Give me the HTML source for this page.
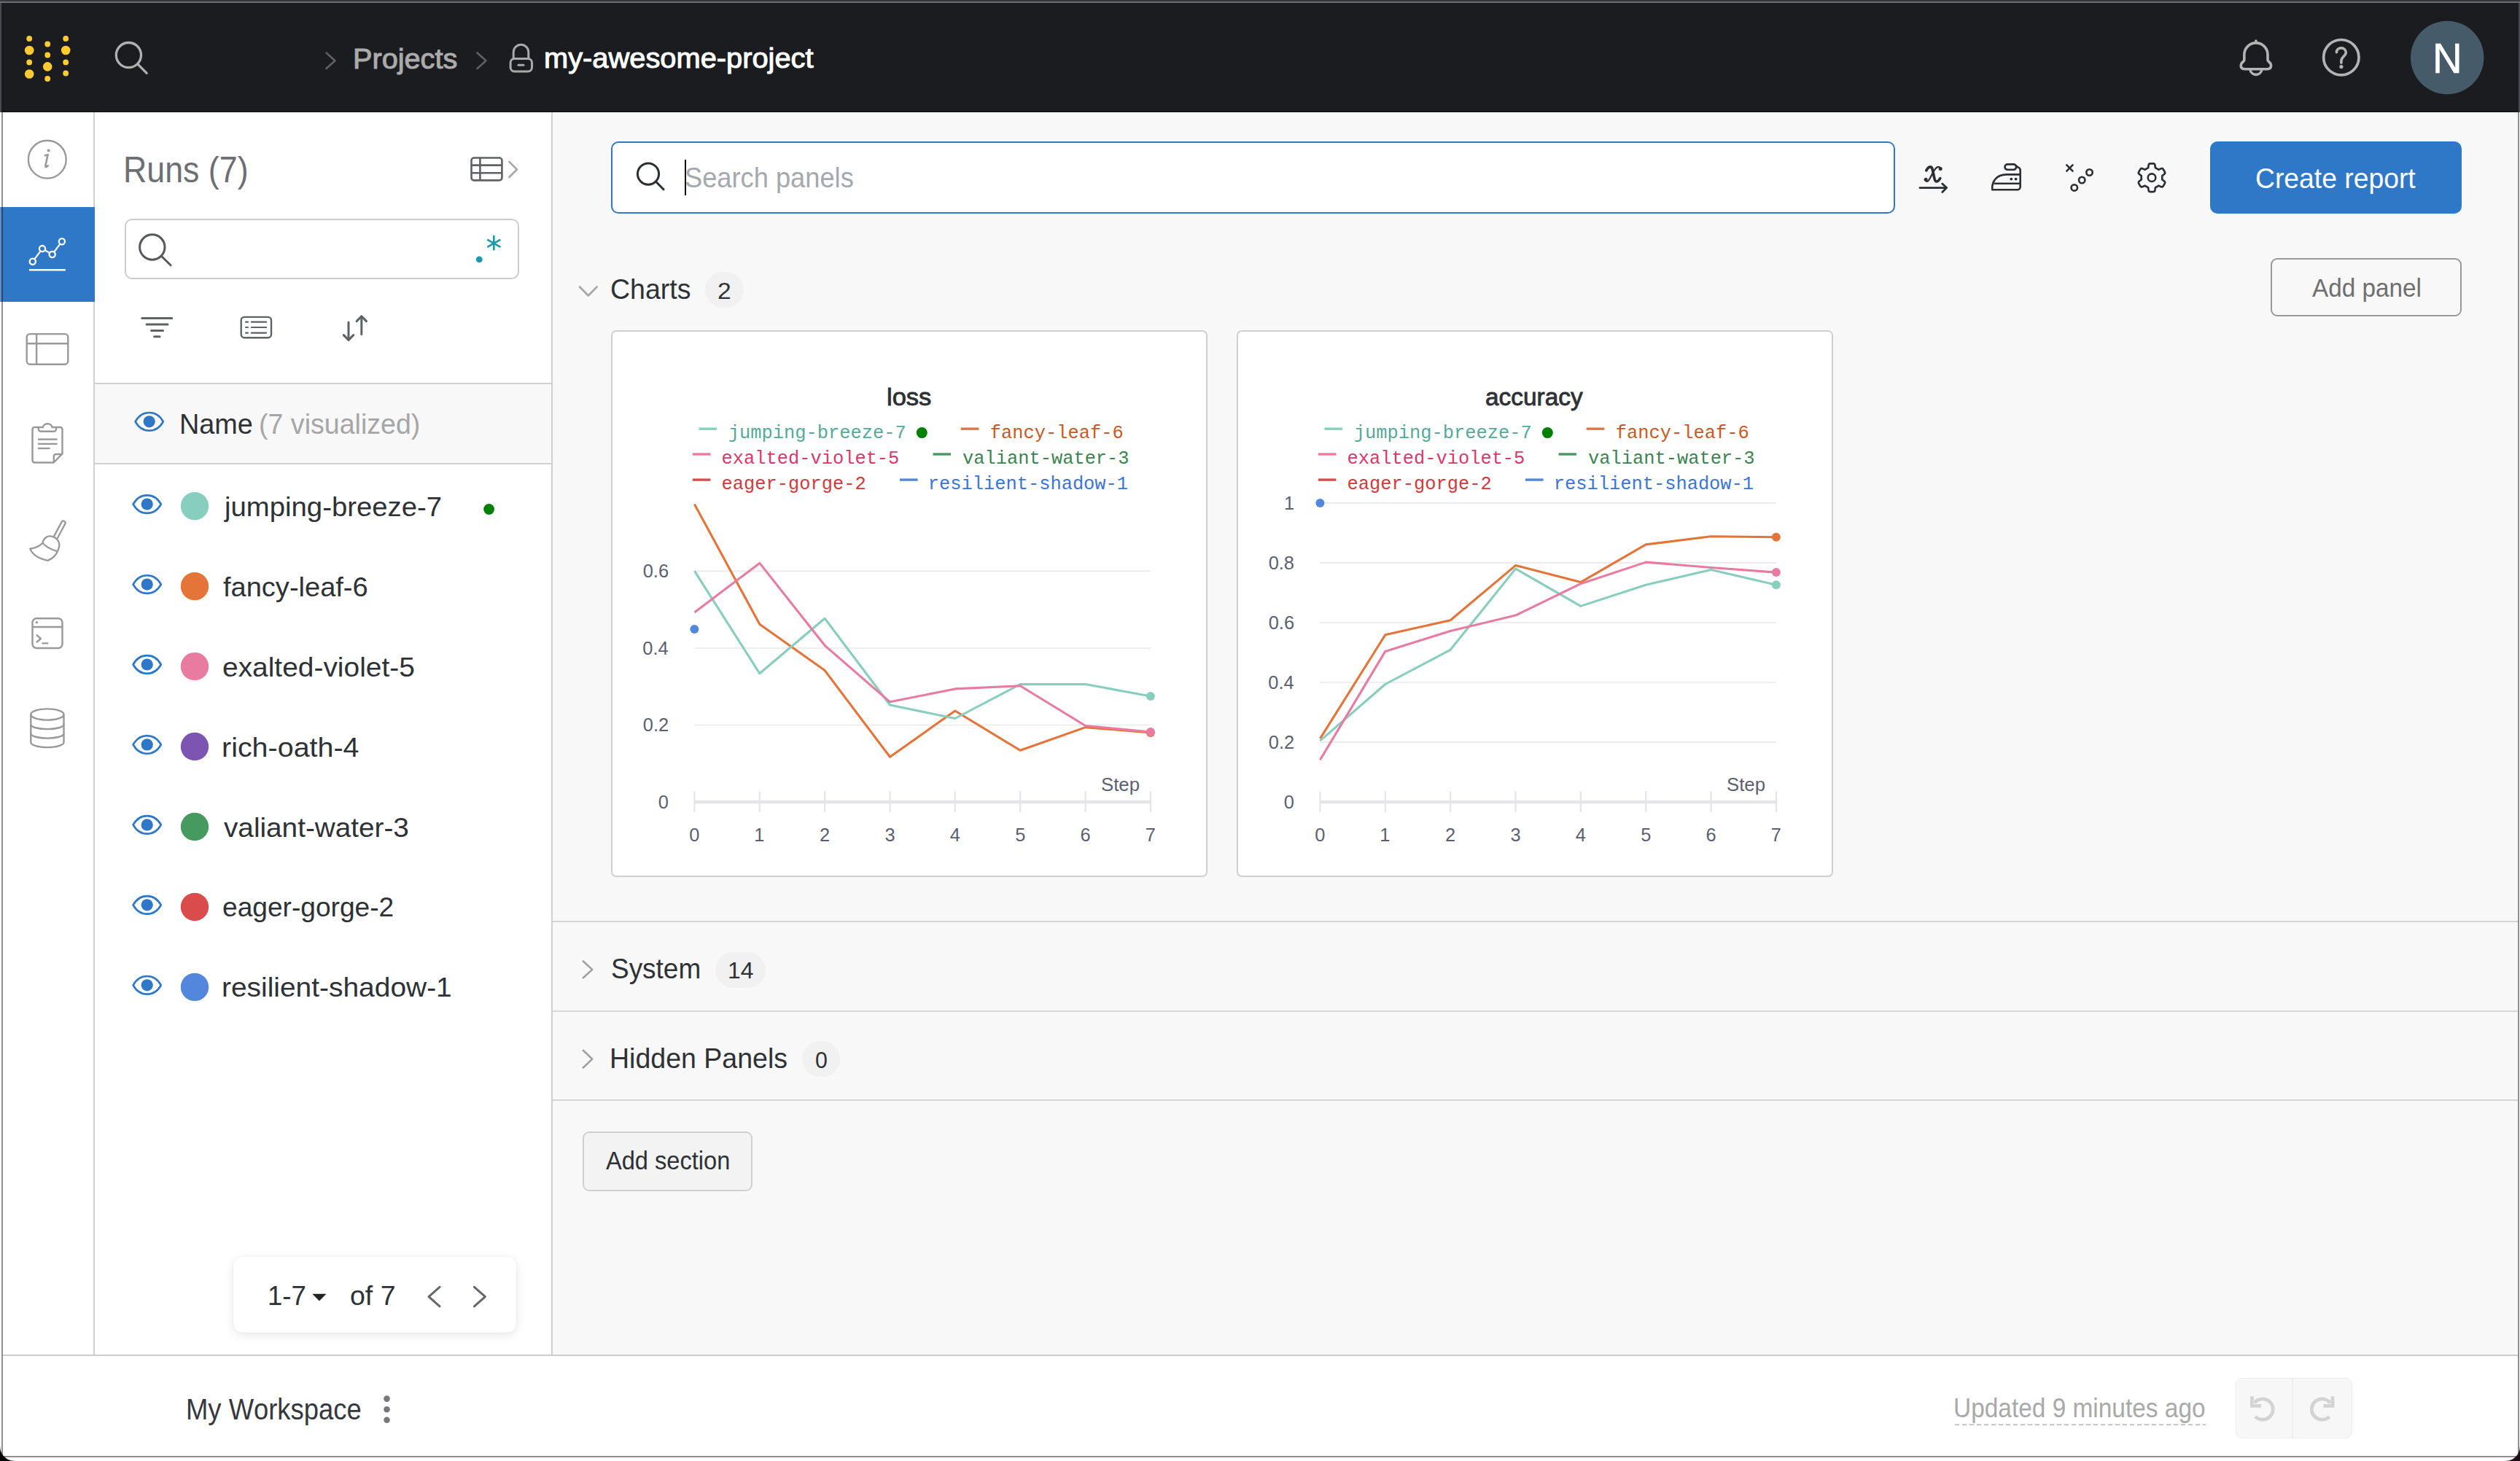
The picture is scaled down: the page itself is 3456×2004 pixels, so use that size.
<!DOCTYPE html><html><head><meta charset="utf-8"><title>my-awesome-project Workspace</title><style>
*{margin:0;padding:0;box-sizing:content-box}
html,body{width:3456px;height:2004px;overflow:hidden;background:#fff}
body{position:relative;font-family:"Liberation Sans",Arial,sans-serif}
.t{position:absolute;white-space:nowrap;line-height:1;transform-origin:0 0;font-kerning:none;z-index:3}
#ov{position:absolute;left:0;top:0;z-index:2}
@media (max-width:2400px){html{zoom:0.5}}
</style></head><body>
<div style="position:absolute;left:0px;top:0px;width:3456px;height:2px;background:#35363b"></div>
<div style="position:absolute;left:0px;top:2px;width:3456px;height:2px;background:#6b6c70"></div>
<div style="position:absolute;left:0px;top:4px;width:2px;height:150px;background:#4a4b50"></div>
<div style="position:absolute;left:2px;top:4px;width:3452px;height:150px;background:#1a1c20"></div>
<div style="position:absolute;left:3454px;top:4px;width:2px;height:150px;background:#48494e"></div>
<div style="position:absolute;left:4px;top:154px;width:124px;height:1704px;background:#fff"></div>
<div style="position:absolute;left:128px;top:154px;width:2px;height:1704px;background:#d0d0d0"></div>
<div style="position:absolute;left:0px;top:284px;width:130px;height:130px;background:#2f78c8"></div>
<div style="position:absolute;left:0px;top:284px;width:2px;height:130px;background:#5d90d2"></div>
<div style="position:absolute;left:130px;top:154px;width:626px;height:1704px;background:#fff"></div>
<div style="position:absolute;left:756px;top:154px;width:2px;height:1704px;background:#d0d0d0"></div>
<div style="position:absolute;left:130px;top:525px;width:626px;height:2px;background:#d0d0d0"></div>
<div style="position:absolute;left:130px;top:527px;width:626px;height:108px;background:#f8f8f8"></div>
<div style="position:absolute;left:130px;top:634.5px;width:626px;height:2px;background:#d0d0d0"></div>
<div style="position:absolute;left:758px;top:154px;width:2695px;height:1704px;background:#f8f8f8"></div>
<div style="position:absolute;left:3451.5px;top:154px;width:1.5px;height:1704px;background:#fff"></div>
<div style="position:absolute;left:4px;top:1858px;width:3449px;height:2px;background:#cdcdcd"></div>
<div style="position:absolute;left:4px;top:1860px;width:3449px;height:137px;background:#fff"></div>
<div style="position:absolute;left:2px;top:152.6px;width:3452px;height:1.4px;background:#0b0d11"></div>
<div style="position:absolute;left:758px;top:154px;width:2695px;height:1.4px;background:#fff"></div>
<div style="position:absolute;left:2px;top:154px;width:2px;height:130px;background:#8f8f8f"></div>
<div style="position:absolute;left:2px;top:284px;width:2px;height:130px;background:#2c4666"></div>
<div style="position:absolute;left:2px;top:414px;width:2px;height:1585px;background:#8f8f8f"></div>
<div style="position:absolute;left:3453px;top:154px;width:2px;height:1845px;background:#8f8f8f"></div>
<div style="position:absolute;left:2px;top:1997px;width:3453px;height:2px;background:#8f8f8f"></div>
<div style="position:absolute;left:0px;top:1984px;width:20px;height:20px;z-index:4;background:radial-gradient(circle at 100% 0, rgba(0,0,0,0) 19.3px, #050505 20.6px)"></div>
<div style="position:absolute;left:3436px;top:1984px;width:20px;height:20px;z-index:4;background:radial-gradient(circle at 0 0, rgba(0,0,0,0) 19.3px, #1c0f17 20.6px)"></div>
<div style="position:absolute;left:171px;top:300px;width:541px;height:83px;box-sizing:border-box;border:2px solid #cccccc;border-radius:10px;background:#fff"></div>
<div style="position:absolute;left:320px;top:1724px;width:388px;height:104px;border-radius:13px;background:#fff;box-shadow:0 3px 14px rgba(0,0,0,0.10),0 0 3px rgba(0,0,0,0.04)"></div>
<div style="position:absolute;left:3066px;top:1890px;width:160px;height:83px;box-sizing:border-box;border:1.5px solid #ededed;border-radius:9px;background:#f7f7f7"></div>
<div style="position:absolute;left:3143.3px;top:1891px;width:1.5px;height:81px;background:#ededed"></div>
<div style="position:absolute;left:838px;top:194px;width:1761px;height:99px;box-sizing:border-box;border:2px solid #2e78c7;border-radius:10px;background:#fff"></div>
<div style="position:absolute;left:939px;top:219.2px;width:2px;height:48.4px;background:#111"></div>
<div style="position:absolute;left:3031px;top:194px;width:345px;height:99px;border-radius:10px;background:#2f78c8"></div>
<div style="position:absolute;left:966.9px;top:372.6px;width:53.1px;height:49.8px;border-radius:25px;background:#f1f1f1"></div>
<div style="position:absolute;left:3114px;top:354px;width:262px;height:80px;box-sizing:border-box;border:2px solid #999;border-radius:9px"></div>
<div style="position:absolute;left:838px;top:453px;width:818px;height:750px;box-sizing:border-box;border:2px solid #cfcfcf;border-radius:7px;background:#fff"></div>
<div style="position:absolute;left:1696px;top:453px;width:818px;height:750px;box-sizing:border-box;border:2px solid #cfcfcf;border-radius:7px;background:#fff"></div>
<div style="position:absolute;left:758px;top:1263px;width:2695px;height:2.4px;background:#d3d3d3"></div>
<div style="position:absolute;left:758px;top:1385.8px;width:2695px;height:1.8px;background:#d6d6d6"></div>
<div style="position:absolute;left:758px;top:1508px;width:2695px;height:2.4px;background:#d3d3d3"></div>
<div style="position:absolute;left:981.2px;top:1306.1px;width:69.1px;height:48.5px;border-radius:25px;background:#f1f1f1"></div>
<div style="position:absolute;left:1100.4px;top:1428px;width:52px;height:49.3px;border-radius:25px;background:#f1f1f1"></div>
<div style="position:absolute;left:799px;top:1552px;width:233px;height:82px;box-sizing:border-box;border:2px solid #d0d0d0;border-radius:9px;background:#f3f3f3"></div>
<svg id="ov" width="3456" height="2004" viewBox="0 0 3456 2004"><circle cx="40.2" cy="52.9" r="3.9" fill="#ffcb33"/><circle cx="40.2" cy="69" r="6.3" fill="#ffcb33"/><circle cx="40.2" cy="85.4" r="3.9" fill="#ffcb33"/><circle cx="40.2" cy="101.5" r="6.3" fill="#ffcb33"/><circle cx="65.2" cy="60.5" r="3.9" fill="#ffcb33"/><circle cx="65.2" cy="75.5" r="3.9" fill="#ffcb33"/><circle cx="65.2" cy="91.4" r="6.3" fill="#ffcb33"/><circle cx="65.2" cy="108" r="3.9" fill="#ffcb33"/><circle cx="90.2" cy="52.9" r="3.9" fill="#ffcb33"/><circle cx="90.2" cy="69" r="6.3" fill="#ffcb33"/><circle cx="90.2" cy="85.4" r="3.9" fill="#ffcb33"/><circle cx="90.2" cy="100.5" r="3.9" fill="#ffcb33"/><circle cx="176.4" cy="75.6" r="17.1" fill="none" stroke="#b0b0b0" stroke-width="3.3"/><line x1="189.3" y1="88.3" x2="201.2" y2="100.3" stroke="#b0b0b0" stroke-width="3.3" stroke-linecap="round"/><polyline points="447.5,72.5 459.5,83.2 447.5,94" fill="none" stroke="#5f6064" stroke-width="2.6" stroke-linecap="round" stroke-linejoin="round"/><polyline points="654.5,72.5 666.5,83.2 654.5,94" fill="none" stroke="#5f6064" stroke-width="2.6" stroke-linecap="round" stroke-linejoin="round"/><path d="M704.2,80.5 V71.5 A10.3,10.3 0 0 1 724.8,71.5 V80.5" fill="none" stroke="#a9a9a9" stroke-width="3"/><rect x="700.1" y="80.5" width="29.4" height="17.5" rx="5.5" fill="none" stroke="#a9a9a9" stroke-width="3"/><line x1="711" y1="89.2" x2="718" y2="89.2" stroke="#a9a9a9" stroke-width="3" stroke-linecap="round"/><path d="M3077.8,82.5 V75 A16.1,16.1 0 0 1 3110,75 V82.5 C3110,84.5 3114.6,85.5 3114.6,89.5 C3114.6,92.8 3112.6,94.7 3109.5,94.7 H3078.3 C3075.2,94.7 3073.2,92.8 3073.2,89.5 C3073.2,85.5 3077.8,84.5 3077.8,82.5 Z" fill="none" stroke="#b3b3b3" stroke-width="3.6" stroke-linejoin="round"/><path d="M3085.9,95.5 A8.1,8.1 0 0 0 3101.9,95.5" fill="none" stroke="#b3b3b3" stroke-width="3.6"/><line x1="3093.9" y1="56" x2="3093.9" y2="58.5" stroke="#b3b3b3" stroke-width="3.6" stroke-linecap="round"/><circle cx="3210.8" cy="78.7" r="24.2" fill="none" stroke="#b3b3b3" stroke-width="3.7"/><path d="M3204.4,71.8 C3204.4,67.8 3207.3,65.9 3210.8,65.9 C3214.6,65.9 3217.3,68.6 3217.3,72.1 C3217.3,76.3 3210.9,78.6 3210.9,83.4 V86.2" fill="none" stroke="#b3b3b3" stroke-width="3.6" stroke-linecap="round"/><circle cx="3210.9" cy="91.6" r="2.6" fill="#b3b3b3"/><circle cx="3356.2" cy="79" r="50.2" fill="#465b69"/><circle cx="64.8" cy="218.7" r="25.9" fill="none" stroke="#999999" stroke-width="2.4"/><circle cx="66.6" cy="206.4" r="2" fill="#999999"/><path d="M61.8,213.2 L65.6,212.2 L62.3,227.5 C62.1,229.2 63.5,229.8 65.8,227.2" fill="none" stroke="#999999" stroke-width="2.6" stroke-linecap="round" stroke-linejoin="round"/><polyline points="44.8,358.8 58,341.1 71.7,349 84.9,331.2" fill="none" stroke="#fff" stroke-width="2.2"/><circle cx="44.8" cy="358.8" r="4.1" fill="#2f78c8" stroke="#fff" stroke-width="2.3"/><circle cx="58" cy="341.1" r="4.1" fill="#2f78c8" stroke="#fff" stroke-width="2.3"/><circle cx="71.7" cy="349" r="4.1" fill="#2f78c8" stroke="#fff" stroke-width="2.3"/><circle cx="84.9" cy="331.2" r="4.1" fill="#2f78c8" stroke="#fff" stroke-width="2.3"/><line x1="40" y1="370.3" x2="89.9" y2="370.3" stroke="#fff" stroke-width="2.6"/><rect x="36.7" y="458.1" width="56.6" height="41.7" rx="4.5" fill="none" stroke="#999999" stroke-width="2.4"/><line x1="36.7" y1="471.3" x2="93.3" y2="471.3" stroke="#999999" stroke-width="2.4"/><line x1="50.1" y1="458.1" x2="50.1" y2="499.8" stroke="#999999" stroke-width="2.4"/><path d="M52.2,586 H47.5 A3,3 0 0 0 44.5,589 V631.5 A3,3 0 0 0 47.5,634.5 H73.5 L85.5,622.3 V589 A3,3 0 0 0 82.5,586 H77.6" fill="none" stroke="#999999" stroke-width="2.4" stroke-linejoin="round"/><path d="M52.8,586 V588.5 A3.3,3.3 0 0 0 56.1,591.8 H73.7 A3.3,3.3 0 0 0 77,588.5 V586 H71.4 A6.2,4.8 0 0 0 59,586 Z" fill="none" stroke="#999999" stroke-width="2.4" stroke-linejoin="round"/><path d="M73.8,634.3 V626 A3,3 0 0 1 76.8,623 H85.3" fill="none" stroke="#999999" stroke-width="2.4" stroke-linejoin="round"/><line x1="51.9" y1="602.6" x2="78.6" y2="602.6" stroke="#999999" stroke-width="2.4"/><line x1="51.9" y1="608.9" x2="78.6" y2="608.9" stroke="#999999" stroke-width="2.4"/><line x1="51.9" y1="615" x2="68.5" y2="615" stroke="#999999" stroke-width="2.4"/><g transform="translate(81.75,726.9) rotate(-61.8)"><rect x="-13.5" y="-2.7" width="27" height="5.4" rx="2.7" fill="none" stroke="#999999" stroke-width="2.3"/></g><path d="M58.4,744.6 C60.2,737.5 65.5,734.6 70.4,735.6 C77.5,737 83.5,743.5 80.6,752 L78.8,756.4 C71,754 63,750.5 58.4,744.6 Z" fill="#fff" stroke="#999999" stroke-width="2.3" stroke-linejoin="round"/><path d="M58.2,745.2 C53.5,749.6 48,752.2 41.2,752.6 C44.5,760.5 53.5,766.4 65.4,768.8 C71.5,766.5 76.5,762 78.8,756.4" fill="none" stroke="#999999" stroke-width="2.3" stroke-linejoin="round"/><rect x="44.5" y="848.2" width="41" height="40.8" rx="5.5" fill="none" stroke="#999999" stroke-width="2.4"/><line x1="44.5" y1="860" x2="85.5" y2="860" stroke="#999999" stroke-width="2.4"/><circle cx="50.3" cy="853.8" r="1.7" fill="#999999"/><polyline points="50.6,871.3 56,876 50.6,880.5" fill="none" stroke="#999999" stroke-width="2.4" stroke-linecap="round" stroke-linejoin="round"/><line x1="58.6" y1="882.4" x2="65.2" y2="882.4" stroke="#999999" stroke-width="2.4" stroke-linecap="round"/><ellipse cx="64.9" cy="980" rx="22.6" ry="7.6" fill="none" stroke="#999999" stroke-width="2.4"/><path d="M42.3,980 V1018.3 A22.6,6.8 0 0 0 87.5,1018.3 V980" fill="none" stroke="#999999" stroke-width="2.4"/><path d="M42.3,993.8 A22.6,6.3 0 0 0 87.5,993.8" fill="none" stroke="#999999" stroke-width="2.4"/><path d="M42.3,1006.3 A22.6,6.3 0 0 0 87.5,1006.3" fill="none" stroke="#999999" stroke-width="2.4"/><rect x="646.5" y="216.5" width="41.9" height="30.9" rx="3.6" fill="none" stroke="#5e6166" stroke-width="2.6"/><line x1="646.5" y1="226.6" x2="688.4" y2="226.6" stroke="#5e6166" stroke-width="2.6"/><line x1="646.5" y1="237.3" x2="688.4" y2="237.3" stroke="#5e6166" stroke-width="2.6"/><line x1="658.4" y1="216.5" x2="658.4" y2="247.4" stroke="#5e6166" stroke-width="2.6"/><polyline points="698.3,221.8 709,232.5 698.3,243" fill="none" stroke="#a8a8a8" stroke-width="2.6" stroke-linecap="round" stroke-linejoin="round"/><circle cx="208.8" cy="339" r="17.2" fill="none" stroke="#55585c" stroke-width="3"/><line x1="221.5" y1="351.5" x2="234" y2="363.8" stroke="#55585c" stroke-width="3" stroke-linecap="round"/><circle cx="657.3" cy="355.9" r="4.4" fill="#1c9aab"/><g stroke="#1c9aab" stroke-width="2.6" stroke-linecap="butt"><line x1="677.3" y1="322.8" x2="677.3" y2="343.4"/><line x1="668.3" y1="328.6" x2="686.3" y2="338.9"/><line x1="668.3" y1="338.9" x2="686.3" y2="328.6"/></g><line x1="194.8" y1="436.5" x2="235.8" y2="436.5" stroke="#5e6166" stroke-width="3" stroke-linecap="round"/><line x1="201" y1="445" x2="230" y2="445" stroke="#5e6166" stroke-width="3" stroke-linecap="round"/><line x1="207.6" y1="453.4" x2="223.5" y2="453.4" stroke="#5e6166" stroke-width="3" stroke-linecap="round"/><line x1="211.6" y1="461.8" x2="219" y2="461.8" stroke="#5e6166" stroke-width="3" stroke-linecap="round"/><rect x="330.7" y="434.9" width="41.3" height="28.3" rx="4.5" fill="none" stroke="#5e6166" stroke-width="2.4"/><line x1="337" y1="441.7" x2="340" y2="441.7" stroke="#5e6166" stroke-width="2.2" stroke-linecap="round"/><line x1="344.8" y1="441.7" x2="365.2" y2="441.7" stroke="#5e6166" stroke-width="2.2" stroke-linecap="round"/><line x1="337" y1="449" x2="340" y2="449" stroke="#5e6166" stroke-width="2.2" stroke-linecap="round"/><line x1="344.8" y1="449" x2="365.2" y2="449" stroke="#5e6166" stroke-width="2.2" stroke-linecap="round"/><line x1="337" y1="456.6" x2="340" y2="456.6" stroke="#5e6166" stroke-width="2.2" stroke-linecap="round"/><line x1="344.8" y1="456.6" x2="365.2" y2="456.6" stroke="#5e6166" stroke-width="2.2" stroke-linecap="round"/><g fill="none" stroke="#5e6166" stroke-width="3" stroke-linecap="round" stroke-linejoin="round"><line x1="478" y1="442" x2="478" y2="466"/><polyline points="471.3,459.6 478,466.4 484.7,459.6"/><line x1="495.8" y1="458.5" x2="495.8" y2="434"/><polyline points="489.1,440.6 495.8,433.8 502.5,440.6"/></g><path d="M185.60,578.30 C194.70,561.90 214.70,561.90 223.80,578.30 C214.70,594.70 194.70,594.70 185.60,578.30 Z" fill="none" stroke="#2e78c7" stroke-width="2.7" stroke-linejoin="round"/><circle cx="204.70" cy="578.30" r="8.1" fill="#2e78c7"/><path d="M182.60,691.60 C191.70,675.20 211.70,675.20 220.80,691.60 C211.70,708.00 191.70,708.00 182.60,691.60 Z" fill="none" stroke="#2e78c7" stroke-width="2.7" stroke-linejoin="round"/><circle cx="201.70" cy="691.60" r="8.1" fill="#2e78c7"/><circle cx="267" cy="694.20" r="19.2" fill="#87cebf"/><path d="M182.60,801.55 C191.70,785.15 211.70,785.15 220.80,801.55 C211.70,817.95 191.70,817.95 182.60,801.55 Z" fill="none" stroke="#2e78c7" stroke-width="2.7" stroke-linejoin="round"/><circle cx="201.70" cy="801.55" r="8.1" fill="#2e78c7"/><circle cx="267" cy="804.15" r="19.2" fill="#e57439"/><path d="M182.60,911.50 C191.70,895.10 211.70,895.10 220.80,911.50 C211.70,927.90 191.70,927.90 182.60,911.50 Z" fill="none" stroke="#2e78c7" stroke-width="2.7" stroke-linejoin="round"/><circle cx="201.70" cy="911.50" r="8.1" fill="#2e78c7"/><circle cx="267" cy="914.10" r="19.2" fill="#e87b9f"/><path d="M182.60,1021.45 C191.70,1005.05 211.70,1005.05 220.80,1021.45 C211.70,1037.85 191.70,1037.85 182.60,1021.45 Z" fill="none" stroke="#2e78c7" stroke-width="2.7" stroke-linejoin="round"/><circle cx="201.70" cy="1021.45" r="8.1" fill="#2e78c7"/><circle cx="267" cy="1024.05" r="19.2" fill="#7d54b2"/><path d="M182.60,1131.40 C191.70,1115.00 211.70,1115.00 220.80,1131.40 C211.70,1147.80 191.70,1147.80 182.60,1131.40 Z" fill="none" stroke="#2e78c7" stroke-width="2.7" stroke-linejoin="round"/><circle cx="201.70" cy="1131.40" r="8.1" fill="#2e78c7"/><circle cx="267" cy="1134.00" r="19.2" fill="#479a5f"/><path d="M182.60,1241.35 C191.70,1224.95 211.70,1224.95 220.80,1241.35 C211.70,1257.75 191.70,1257.75 182.60,1241.35 Z" fill="none" stroke="#2e78c7" stroke-width="2.7" stroke-linejoin="round"/><circle cx="201.70" cy="1241.35" r="8.1" fill="#2e78c7"/><circle cx="267" cy="1243.95" r="19.2" fill="#da4c4c"/><path d="M182.60,1351.30 C191.70,1334.90 211.70,1334.90 220.80,1351.30 C211.70,1367.70 191.70,1367.70 182.60,1351.30 Z" fill="none" stroke="#2e78c7" stroke-width="2.7" stroke-linejoin="round"/><circle cx="201.70" cy="1351.30" r="8.1" fill="#2e78c7"/><circle cx="267" cy="1353.90" r="19.2" fill="#5387dd"/><circle cx="670.6" cy="698.5" r="7.4" fill="#008000"/><polygon points="428.3,1774.8 447.5,1774.8 437.9,1784.4" fill="#222"/><polyline points="603,1765.3 588,1778.6 603,1791.8" fill="none" stroke="#63666a" stroke-width="3" stroke-linecap="round" stroke-linejoin="round"/><polyline points="650.4,1765.3 665.4,1778.6 650.4,1791.8" fill="none" stroke="#63666a" stroke-width="3" stroke-linecap="round" stroke-linejoin="round"/><circle cx="530.5" cy="1918.6" r="4.3" fill="#76787c"/><circle cx="530.5" cy="1933.2" r="4.3" fill="#76787c"/><circle cx="530.5" cy="1947.8" r="4.3" fill="#76787c"/><line x1="2681" y1="1954.3" x2="3025" y2="1954.3" stroke="#b4b4b4" stroke-width="1.6" stroke-dasharray="6 4"/><g transform="translate(3103.3,1932.8) scale(1,1)"><path d="M-11.4,-8.6 A14.2,14.2 0 1 1 -10.3,10.3" fill="none" stroke="#d3d3d3" stroke-width="4.8"/><path d="M-17.2,-17.5 H-12.5 V-6.7 H-2.3 V-2 H-17.2 Z" fill="#d3d3d3"/></g><g transform="translate(3184.2,1932.8) scale(-1,1)"><path d="M-11.4,-8.6 A14.2,14.2 0 1 1 -10.3,10.3" fill="none" stroke="#d3d3d3" stroke-width="4.8"/><path d="M-17.2,-17.5 H-12.5 V-6.7 H-2.3 V-2 H-17.2 Z" fill="#d3d3d3"/></g><circle cx="889" cy="238.6" r="14.6" fill="none" stroke="#2b2f33" stroke-width="3"/><line x1="899.6" y1="249.3" x2="910" y2="259.8" stroke="#2b2f33" stroke-width="3" stroke-linecap="round"/><path d="M2641.8,233.8 C2643.5,230.5 2645.5,228.8 2647.2,228.8 C2649.6,228.8 2650.3,232 2651.2,236.5 C2652.3,242 2653.3,249 2655.6,249 C2657.5,249 2659.5,246.8 2660.8,244.6" fill="none" stroke="#2b2f33" stroke-width="3.7" stroke-linecap="round"/><path d="M2661.4,231.4 C2660.5,229.5 2659.2,228.9 2658.2,228.9 C2655.5,228.9 2653.5,232 2651,236.5 C2648.5,241 2645.5,248.9 2642.8,248.9 C2641.7,248.9 2641,248 2640.8,246.6" fill="none" stroke="#2b2f33" stroke-width="2.3" stroke-linecap="round"/><circle cx="2661.2" cy="231.5" r="2.5" fill="#2b2f33"/><circle cx="2641.1" cy="246.3" r="2.5" fill="#2b2f33"/><line x1="2633" y1="257.6" x2="2669" y2="257.6" stroke="#2b2f33" stroke-width="2.8" stroke-linecap="round"/><polyline points="2663.8,252 2669.6,257.6 2663.8,263.4" fill="none" stroke="#2b2f33" stroke-width="2.8" stroke-linecap="round" stroke-linejoin="round"/><rect x="2749.5" y="225.4" width="15.6" height="7.4" rx="3.7" fill="none" stroke="#2b2f33" stroke-width="2.6"/><path d="M2764.6,226.8 C2766,228.5 2767.4,229.5 2768.5,229.9 C2770,230.5 2770.7,232 2770.7,234 V256.3 A4,4 0 0 1 2766.7,260.3 H2732.3 C2731.3,250 2737,239.4 2752,239.4 H2770.5" fill="none" stroke="#2b2f33" stroke-width="2.6" stroke-linejoin="round"/><line x1="2734.6" y1="251.7" x2="2770.5" y2="251.7" stroke="#2b2f33" stroke-width="2.6"/><circle cx="2758.3" cy="245.6" r="1.9" fill="#2b2f33"/><circle cx="2764.6" cy="245.6" r="1.9" fill="#2b2f33"/><g stroke="#2b2f33" stroke-width="2.6" stroke-linecap="round" fill="none"><line x1="2834.3" y1="226.3" x2="2842.5" y2="234.6"/><line x1="2842.5" y1="226.3" x2="2834.3" y2="234.6"/><circle cx="2844.8" cy="257.4" r="4.2"/><circle cx="2855.2" cy="247" r="4.2"/><circle cx="2865.5" cy="236.5" r="4.2"/></g><path d="M2965.30,243.70 L2965.30,243.95 L2965.29,244.20 L2965.28,244.45 L2965.27,244.70 L2965.25,244.95 L2965.22,245.19 L2965.19,245.44 L2965.16,245.69 L2965.15,245.94 L2965.30,246.22 L2965.60,246.54 L2966.02,246.89 L2966.53,247.28 L2967.09,247.71 L2967.66,248.16 L2968.19,248.63 L2968.65,249.10 L2968.99,249.54 L2969.18,249.96 L2969.22,250.33 L2969.11,250.65 L2968.99,250.97 L2968.86,251.28 L2968.72,251.59 L2968.58,251.90 L2968.44,252.20 L2968.29,252.51 L2968.13,252.81 L2967.97,253.11 L2967.80,253.40 L2967.63,253.69 L2967.45,253.98 L2967.27,254.27 L2967.08,254.55 L2966.89,254.83 L2966.69,255.10 L2966.49,255.38 L2966.29,255.64 L2966.08,255.91 L2965.85,256.16 L2965.51,256.32 L2965.06,256.36 L2964.50,256.29 L2963.87,256.13 L2963.20,255.90 L2962.52,255.63 L2961.87,255.35 L2961.27,255.11 L2960.75,254.92 L2960.33,254.82 L2960.02,254.84 L2959.80,254.97 L2959.61,255.12 L2959.41,255.27 L2959.20,255.41 L2959.00,255.56 L2958.79,255.69 L2958.58,255.83 L2958.37,255.96 L2958.15,256.08 L2957.93,256.21 L2957.71,256.33 L2957.49,256.44 L2957.27,256.55 L2957.04,256.66 L2956.82,256.76 L2956.59,256.86 L2956.36,256.96 L2956.14,257.08 L2955.97,257.34 L2955.84,257.76 L2955.74,258.30 L2955.66,258.94 L2955.57,259.64 L2955.46,260.36 L2955.33,261.06 L2955.15,261.68 L2954.93,262.20 L2954.67,262.58 L2954.37,262.79 L2954.03,262.86 L2953.70,262.91 L2953.36,262.96 L2953.03,262.99 L2952.69,263.03 L2952.35,263.05 L2952.02,263.07 L2951.68,263.09 L2951.34,263.10 L2951.00,263.10 L2950.66,263.10 L2950.32,263.09 L2949.98,263.07 L2949.65,263.05 L2949.31,263.03 L2948.97,262.99 L2948.64,262.96 L2948.30,262.91 L2947.97,262.86 L2947.63,262.79 L2947.33,262.58 L2947.07,262.20 L2946.85,261.68 L2946.67,261.06 L2946.54,260.36 L2946.43,259.64 L2946.34,258.94 L2946.26,258.30 L2946.16,257.76 L2946.03,257.34 L2945.86,257.08 L2945.64,256.96 L2945.41,256.86 L2945.18,256.76 L2944.96,256.66 L2944.73,256.55 L2944.51,256.44 L2944.29,256.33 L2944.07,256.21 L2943.85,256.08 L2943.63,255.96 L2943.42,255.83 L2943.21,255.69 L2943.00,255.56 L2942.80,255.41 L2942.59,255.27 L2942.39,255.12 L2942.20,254.97 L2941.98,254.84 L2941.67,254.82 L2941.25,254.92 L2940.73,255.11 L2940.13,255.35 L2939.48,255.63 L2938.80,255.90 L2938.13,256.13 L2937.50,256.29 L2936.94,256.36 L2936.49,256.32 L2936.15,256.16 L2935.92,255.91 L2935.71,255.64 L2935.51,255.38 L2935.31,255.10 L2935.11,254.83 L2934.92,254.55 L2934.73,254.27 L2934.55,253.98 L2934.37,253.69 L2934.20,253.40 L2934.03,253.11 L2933.87,252.81 L2933.71,252.51 L2933.56,252.20 L2933.42,251.90 L2933.28,251.59 L2933.14,251.28 L2933.01,250.97 L2932.89,250.65 L2932.78,250.33 L2932.82,249.96 L2933.01,249.54 L2933.35,249.10 L2933.81,248.63 L2934.34,248.16 L2934.91,247.71 L2935.47,247.28 L2935.98,246.89 L2936.40,246.54 L2936.70,246.22 L2936.85,245.94 L2936.84,245.69 L2936.81,245.44 L2936.78,245.19 L2936.75,244.95 L2936.73,244.70 L2936.72,244.45 L2936.71,244.20 L2936.70,243.95 L2936.70,243.70 L2936.70,243.45 L2936.71,243.20 L2936.72,242.95 L2936.73,242.70 L2936.75,242.45 L2936.78,242.21 L2936.81,241.96 L2936.84,241.71 L2936.85,241.46 L2936.70,241.18 L2936.40,240.86 L2935.98,240.51 L2935.47,240.12 L2934.91,239.69 L2934.34,239.24 L2933.81,238.77 L2933.35,238.30 L2933.01,237.86 L2932.82,237.44 L2932.78,237.07 L2932.89,236.75 L2933.01,236.43 L2933.14,236.12 L2933.28,235.81 L2933.42,235.50 L2933.56,235.20 L2933.71,234.89 L2933.87,234.59 L2934.03,234.29 L2934.20,234.00 L2934.37,233.71 L2934.55,233.42 L2934.73,233.13 L2934.92,232.85 L2935.11,232.57 L2935.31,232.30 L2935.51,232.02 L2935.71,231.76 L2935.92,231.49 L2936.15,231.24 L2936.49,231.08 L2936.94,231.04 L2937.50,231.11 L2938.13,231.27 L2938.80,231.50 L2939.48,231.77 L2940.13,232.05 L2940.73,232.29 L2941.25,232.48 L2941.67,232.58 L2941.98,232.56 L2942.20,232.43 L2942.39,232.28 L2942.59,232.13 L2942.80,231.99 L2943.00,231.84 L2943.21,231.71 L2943.42,231.57 L2943.63,231.44 L2943.85,231.32 L2944.07,231.19 L2944.29,231.07 L2944.51,230.96 L2944.73,230.85 L2944.96,230.74 L2945.18,230.64 L2945.41,230.54 L2945.64,230.44 L2945.86,230.32 L2946.03,230.06 L2946.16,229.64 L2946.26,229.10 L2946.34,228.46 L2946.43,227.76 L2946.54,227.04 L2946.67,226.34 L2946.85,225.72 L2947.07,225.20 L2947.33,224.82 L2947.63,224.61 L2947.97,224.54 L2948.30,224.49 L2948.64,224.44 L2948.97,224.41 L2949.31,224.37 L2949.65,224.35 L2949.98,224.33 L2950.32,224.31 L2950.66,224.30 L2951.00,224.30 L2951.34,224.30 L2951.68,224.31 L2952.02,224.33 L2952.35,224.35 L2952.69,224.37 L2953.03,224.41 L2953.36,224.44 L2953.70,224.49 L2954.03,224.54 L2954.37,224.61 L2954.67,224.82 L2954.93,225.20 L2955.15,225.72 L2955.33,226.34 L2955.46,227.04 L2955.57,227.76 L2955.66,228.46 L2955.74,229.10 L2955.84,229.64 L2955.97,230.06 L2956.14,230.32 L2956.36,230.44 L2956.59,230.54 L2956.82,230.64 L2957.04,230.74 L2957.27,230.85 L2957.49,230.96 L2957.71,231.07 L2957.93,231.19 L2958.15,231.32 L2958.37,231.44 L2958.58,231.57 L2958.79,231.71 L2959.00,231.84 L2959.20,231.99 L2959.41,232.13 L2959.61,232.28 L2959.80,232.43 L2960.02,232.56 L2960.33,232.58 L2960.75,232.48 L2961.27,232.29 L2961.87,232.05 L2962.52,231.77 L2963.20,231.50 L2963.87,231.27 L2964.50,231.11 L2965.06,231.04 L2965.51,231.08 L2965.85,231.24 L2966.08,231.49 L2966.29,231.76 L2966.49,232.02 L2966.69,232.30 L2966.89,232.57 L2967.08,232.85 L2967.27,233.13 L2967.45,233.42 L2967.63,233.71 L2967.80,234.00 L2967.97,234.29 L2968.13,234.59 L2968.29,234.89 L2968.44,235.20 L2968.58,235.50 L2968.72,235.81 L2968.86,236.12 L2968.99,236.43 L2969.11,236.75 L2969.22,237.07 L2969.18,237.44 L2968.99,237.86 L2968.65,238.30 L2968.19,238.77 L2967.66,239.24 L2967.09,239.69 L2966.53,240.12 L2966.02,240.51 L2965.60,240.86 L2965.30,241.18 L2965.15,241.46 L2965.16,241.71 L2965.19,241.96 L2965.22,242.21 L2965.25,242.45 L2965.27,242.70 L2965.28,242.95 L2965.29,243.20 L2965.30,243.45 Z" fill="none" stroke="#2b2f33" stroke-width="2.7" stroke-linejoin="round"/><circle cx="2951" cy="243.7" r="5.3" fill="none" stroke="#2b2f33" stroke-width="2.6"/><polyline points="795,393.5 806.8,405.5 818.6,393.5" fill="none" stroke="#a6a6a6" stroke-width="2.6" stroke-linecap="round" stroke-linejoin="round"/><polyline points="799.8,1318.5 812.2,1329.85 799.8,1341.2" fill="none" stroke="#a0a0a0" stroke-width="2.6" stroke-linecap="round" stroke-linejoin="round"/><polyline points="799.8,1440.8 812.2,1452.65 799.8,1464.5" fill="none" stroke="#a0a0a0" stroke-width="2.6" stroke-linecap="round" stroke-linejoin="round"/><line x1="952.4" y1="994.5" x2="1577.9" y2="994.5" stroke="#e9e9e9" stroke-width="1.6"/><line x1="952.4" y1="889.0" x2="1577.9" y2="889.0" stroke="#e9e9e9" stroke-width="1.6"/><line x1="952.4" y1="783.4" x2="1577.9" y2="783.4" stroke="#e9e9e9" stroke-width="1.6"/><line x1="952.4" y1="1100.0" x2="1577.9" y2="1100.0" stroke="#e5e5e9" stroke-width="4.4"/><line x1="952.4" y1="1085.4" x2="952.4" y2="1114" stroke="#e5e5e9" stroke-width="2.2"/><line x1="1041.8" y1="1085.4" x2="1041.8" y2="1114" stroke="#e5e5e9" stroke-width="2.2"/><line x1="1131.1" y1="1085.4" x2="1131.1" y2="1114" stroke="#e5e5e9" stroke-width="2.2"/><line x1="1220.5" y1="1085.4" x2="1220.5" y2="1114" stroke="#e5e5e9" stroke-width="2.2"/><line x1="1309.8" y1="1085.4" x2="1309.8" y2="1114" stroke="#e5e5e9" stroke-width="2.2"/><line x1="1399.2" y1="1085.4" x2="1399.2" y2="1114" stroke="#e5e5e9" stroke-width="2.2"/><line x1="1488.6" y1="1085.4" x2="1488.6" y2="1114" stroke="#e5e5e9" stroke-width="2.2"/><line x1="1577.9" y1="1085.4" x2="1577.9" y2="1114" stroke="#e5e5e9" stroke-width="2.2"/><circle cx="952.4" cy="863.1" r="6" fill="#5387dd"/><polyline points="952.4,691.6 1041.8,856.2 1131.1,919.6 1220.5,1038.3 1309.8,975.0 1399.2,1029.3 1488.6,997.6 1577.9,1005.0" fill="none" stroke="#e57439" stroke-width="3.1" stroke-linejoin="round"/><polyline points="952.4,783.1 1041.8,923.8 1131.1,848.3 1220.5,967.0 1309.8,985.5 1399.2,938.6 1488.6,938.6 1577.9,954.9" fill="none" stroke="#87cebf" stroke-width="3.1" stroke-linejoin="round"/><polyline points="952.4,839.9 1041.8,772.4 1131.1,885.3 1220.5,962.8 1309.8,944.9 1399.2,940.7 1488.6,995.5 1577.9,1004.0" fill="none" stroke="#e87b9f" stroke-width="3.1" stroke-linejoin="round"/><circle cx="1577.9" cy="1005.0" r="6" fill="#e57439"/><circle cx="1577.9" cy="954.9" r="6" fill="#87cebf"/><circle cx="1577.9" cy="1004.0" r="6" fill="#e87b9f"/><line x1="1810.4" y1="1018.1" x2="2435.9" y2="1018.1" stroke="#e9e9e9" stroke-width="1.6"/><line x1="1810.4" y1="936.0" x2="2435.9" y2="936.0" stroke="#e9e9e9" stroke-width="1.6"/><line x1="1810.4" y1="854.0" x2="2435.9" y2="854.0" stroke="#e9e9e9" stroke-width="1.6"/><line x1="1810.4" y1="771.9" x2="2435.9" y2="771.9" stroke="#e9e9e9" stroke-width="1.6"/><line x1="1810.4" y1="689.9" x2="2435.9" y2="689.9" stroke="#e9e9e9" stroke-width="1.6"/><line x1="1810.4" y1="1100.1" x2="2435.9" y2="1100.1" stroke="#e5e5e9" stroke-width="4.4"/><line x1="1810.4" y1="1085.4" x2="1810.4" y2="1114" stroke="#e5e5e9" stroke-width="2.2"/><line x1="1899.8" y1="1085.4" x2="1899.8" y2="1114" stroke="#e5e5e9" stroke-width="2.2"/><line x1="1989.1" y1="1085.4" x2="1989.1" y2="1114" stroke="#e5e5e9" stroke-width="2.2"/><line x1="2078.5" y1="1085.4" x2="2078.5" y2="1114" stroke="#e5e5e9" stroke-width="2.2"/><line x1="2167.8" y1="1085.4" x2="2167.8" y2="1114" stroke="#e5e5e9" stroke-width="2.2"/><line x1="2257.2" y1="1085.4" x2="2257.2" y2="1114" stroke="#e5e5e9" stroke-width="2.2"/><line x1="2346.6" y1="1085.4" x2="2346.6" y2="1114" stroke="#e5e5e9" stroke-width="2.2"/><line x1="2435.9" y1="1085.4" x2="2435.9" y2="1114" stroke="#e5e5e9" stroke-width="2.2"/><circle cx="1810.4" cy="689.9" r="6" fill="#5387dd"/><polyline points="1810.4,1013.1 1899.8,870.8 1989.1,850.7 2078.5,775.6 2167.8,798.6 2257.2,746.9 2346.6,735.8 2435.9,736.7" fill="none" stroke="#e57439" stroke-width="3.1" stroke-linejoin="round"/><polyline points="1810.4,1016.2 1899.8,938.5 1989.1,891.3 2078.5,780.1 2167.8,831.4 2257.2,802.3 2346.6,781.4 2435.9,802.3" fill="none" stroke="#87cebf" stroke-width="3.1" stroke-linejoin="round"/><polyline points="1810.4,1042.3 1899.8,893.4 1989.1,865.5 2078.5,844.1 2167.8,800.7 2257.2,771.1 2346.6,778.5 2435.9,785.1" fill="none" stroke="#e87b9f" stroke-width="3.1" stroke-linejoin="round"/><circle cx="2435.9" cy="736.7" r="6" fill="#e57439"/><circle cx="2435.9" cy="802.3" r="6" fill="#87cebf"/><circle cx="2435.9" cy="785.1" r="6" fill="#e87b9f"/><line x1="958.5" y1="588.2" x2="983.1" y2="588.2" stroke="#87cebf" stroke-width="3.4"/><line x1="1317.7" y1="588.2" x2="1342.3" y2="588.2" stroke="#e57439" stroke-width="3.4"/><line x1="949.8" y1="623.0" x2="974.4" y2="623.0" stroke="#e87b9f" stroke-width="3.4"/><line x1="1279.5" y1="623.0" x2="1304.1" y2="623.0" stroke="#479a5f" stroke-width="3.4"/><line x1="949.8" y1="658.1" x2="974.4" y2="658.1" stroke="#da4c4c" stroke-width="3.4"/><line x1="1234.0" y1="658.1" x2="1258.6" y2="658.1" stroke="#5387dd" stroke-width="3.4"/><circle cx="1264.3" cy="593.6" r="7.5" fill="#008000"/><line x1="1816.5" y1="588.2" x2="1841.1" y2="588.2" stroke="#87cebf" stroke-width="3.4"/><line x1="2175.7" y1="588.2" x2="2200.3" y2="588.2" stroke="#e57439" stroke-width="3.4"/><line x1="1807.8" y1="623.0" x2="1832.4" y2="623.0" stroke="#e87b9f" stroke-width="3.4"/><line x1="2137.5" y1="623.0" x2="2162.1" y2="623.0" stroke="#479a5f" stroke-width="3.4"/><line x1="1807.8" y1="658.1" x2="1832.4" y2="658.1" stroke="#da4c4c" stroke-width="3.4"/><line x1="2092.0" y1="658.1" x2="2116.6" y2="658.1" stroke="#5387dd" stroke-width="3.4"/><circle cx="2122.3" cy="593.6" r="7.5" fill="#008000"/></svg>
<div class="t" style="left:307.64px;top:676.70px;font-size:37.21px;color:#2e3135;transform:scaleX(1.0295);font-family:'Liberation Sans', Arial, sans-serif;">jumping-breeze-7</div>
<div class="t" style="left:306.16px;top:786.65px;font-size:37.21px;color:#2e3135;transform:scaleX(1.0221);font-family:'Liberation Sans', Arial, sans-serif;">fancy-leaf-6</div>
<div class="t" style="left:305.05px;top:896.60px;font-size:37.21px;color:#2e3135;transform:scaleX(1.0458);font-family:'Liberation Sans', Arial, sans-serif;">exalted-violet-5</div>
<div class="t" style="left:304.08px;top:1006.55px;font-size:37.21px;color:#2e3135;transform:scaleX(1.0603);font-family:'Liberation Sans', Arial, sans-serif;">rich-oath-4</div>
<div class="t" style="left:306.57px;top:1116.50px;font-size:37.21px;color:#2e3135;transform:scaleX(1.0406);font-family:'Liberation Sans', Arial, sans-serif;">valiant-water-3</div>
<div class="t" style="left:305.12px;top:1226.45px;font-size:37.21px;color:#2e3135;transform:scaleX(0.9976);font-family:'Liberation Sans', Arial, sans-serif;">eager-gorge-2</div>
<div class="t" style="left:304.12px;top:1336.40px;font-size:37.21px;color:#2e3135;transform:scaleX(1.0458);font-family:'Liberation Sans', Arial, sans-serif;">resilient-shadow-1</div>
<div class="t" style="left:998.85px;top:582.00px;font-size:25.40px;color:#53aa97;font-family:'Liberation Mono', 'Courier New', monospace;">jumping-breeze-7</div>
<div class="t" style="left:1357.79px;top:582.00px;font-size:25.40px;color:#c85a1e;font-family:'Liberation Mono', 'Courier New', monospace;">fancy-leaf-6</div>
<div class="t" style="left:989.55px;top:616.80px;font-size:25.40px;color:#d8386a;font-family:'Liberation Mono', 'Courier New', monospace;">exalted-violet-5</div>
<div class="t" style="left:1320.04px;top:616.80px;font-size:25.40px;color:#3b8450;font-family:'Liberation Mono', 'Courier New', monospace;">valiant-water-3</div>
<div class="t" style="left:989.55px;top:652.10px;font-size:25.40px;color:#d03a3a;font-family:'Liberation Mono', 'Courier New', monospace;">eager-gorge-2</div>
<div class="t" style="left:1272.80px;top:652.10px;font-size:25.40px;color:#3a74d7;font-family:'Liberation Mono', 'Courier New', monospace;">resilient-shadow-1</div>
<div class="t" style="left:1856.85px;top:582.00px;font-size:25.40px;color:#53aa97;font-family:'Liberation Mono', 'Courier New', monospace;">jumping-breeze-7</div>
<div class="t" style="left:2215.79px;top:582.00px;font-size:25.40px;color:#c85a1e;font-family:'Liberation Mono', 'Courier New', monospace;">fancy-leaf-6</div>
<div class="t" style="left:1847.55px;top:616.80px;font-size:25.40px;color:#d8386a;font-family:'Liberation Mono', 'Courier New', monospace;">exalted-violet-5</div>
<div class="t" style="left:2178.04px;top:616.80px;font-size:25.40px;color:#3b8450;font-family:'Liberation Mono', 'Courier New', monospace;">valiant-water-3</div>
<div class="t" style="left:1847.55px;top:652.10px;font-size:25.40px;color:#d03a3a;font-family:'Liberation Mono', 'Courier New', monospace;">eager-gorge-2</div>
<div class="t" style="left:2130.80px;top:652.10px;font-size:25.40px;color:#3a74d7;font-family:'Liberation Mono', 'Courier New', monospace;">resilient-shadow-1</div>
<div class="t" style="left:483.75px;top:62.27px;font-size:38.66px;color:#ababab;-webkit-text-stroke:1.01px #ababab;transform:scaleX(1.0260);font-family:'Liberation Sans', Arial, sans-serif;">Projects</div>
<div class="t" style="left:746.36px;top:61.47px;font-size:38.66px;color:#ffffff;-webkit-text-stroke:1.01px #ffffff;transform:scaleX(1.0302);font-family:'Liberation Sans', Arial, sans-serif;">my-awesome-project</div>
<div class="t" style="left:3335.67px;top:51.58px;font-size:57.85px;color:#ffffff;transform:scaleX(0.9748);font-family:'Liberation Sans', Arial, sans-serif;-webkit-text-stroke:0.6px #fff;">N</div>
<div class="t" style="left:169.23px;top:208.33px;font-size:50.15px;color:#6c6f73;transform:scaleX(0.8922);font-family:'Liberation Sans', Arial, sans-serif;">Runs (7)</div>
<div class="t" style="left:245.70px;top:562.33px;font-size:39.53px;color:#2e3135;transform:scaleX(0.9566);font-family:'Liberation Sans', Arial, sans-serif;">Name</div>
<div class="t" style="left:354.57px;top:562.33px;font-size:39.53px;color:#a6a6a6;transform:scaleX(0.9509);font-family:'Liberation Sans', Arial, sans-serif;">(7 visualized)</div>
<div class="t" style="left:366.61px;top:1758.68px;font-size:37.65px;color:#2e3135;transform:scaleX(0.9728);font-family:'Liberation Sans', Arial, sans-serif;">1-7</div>
<div class="t" style="left:480.03px;top:1758.68px;font-size:37.65px;color:#2e3135;transform:scaleX(0.9947);font-family:'Liberation Sans', Arial, sans-serif;">of 7</div>
<div class="t" style="left:255.31px;top:1912.90px;font-size:40.41px;color:#35383c;transform:scaleX(0.9009);font-family:'Liberation Sans', Arial, sans-serif;">My Workspace</div>
<div class="t" style="left:2679.42px;top:1914.33px;font-size:36.34px;color:#a9a9a9;transform:scaleX(0.9200);font-family:'Liberation Sans', Arial, sans-serif;">Updated 9 minutes ago</div>
<div class="t" style="left:939.45px;top:224.70px;font-size:38.81px;color:#a3a9ae;transform:scaleX(0.9345);font-family:'Liberation Sans', Arial, sans-serif;">Search panels</div>
<div class="t" style="left:3093.11px;top:226.37px;font-size:38.66px;color:#ffffff;transform:scaleX(0.9648);font-family:'Liberation Sans', Arial, sans-serif;">Create report</div>
<div class="t" style="left:837.09px;top:377.08px;font-size:39.24px;color:#2e3135;transform:scaleX(0.9565);font-family:'Liberation Sans', Arial, sans-serif;">Charts</div>
<div class="t" style="left:984.01px;top:383.84px;font-size:31.72px;color:#2e3135;transform:scaleX(1.0587);font-family:'Liberation Sans', Arial, sans-serif;">2</div>
<div class="t" style="left:3170.53px;top:377.55px;font-size:34.30px;color:#6f6f6f;transform:scaleX(0.9709);font-family:'Liberation Sans', Arial, sans-serif;">Add panel</div>
<div class="t" style="left:837.72px;top:1310.17px;font-size:38.66px;color:#2e3135;transform:scaleX(0.9559);font-family:'Liberation Sans', Arial, sans-serif;">System</div>
<div class="t" style="left:997.97px;top:1316.14px;font-size:31.72px;color:#2e3135;transform:scaleX(1.0050);font-family:'Liberation Sans', Arial, sans-serif;">14</div>
<div class="t" style="left:836.32px;top:1432.87px;font-size:38.66px;color:#2e3135;transform:scaleX(0.9704);font-family:'Liberation Sans', Arial, sans-serif;">Hidden Panels</div>
<div class="t" style="left:1118.12px;top:1438.84px;font-size:31.72px;color:#2e3135;transform:scaleX(0.9562);font-family:'Liberation Sans', Arial, sans-serif;">0</div>
<div class="t" style="left:830.54px;top:1574.76px;font-size:34.88px;color:#2e3135;transform:scaleX(0.9347);font-family:'Liberation Sans', Arial, sans-serif;">Add section</div>
<div class="t" style="left:1215.67px;top:529.12px;font-size:32.77px;color:#2e3135;-webkit-text-stroke:0.85px #2e3135;transform:scaleX(1.0533);font-family:'Liberation Sans', Arial, sans-serif;">loss</div>
<div class="t" style="left:2036.78px;top:529.12px;font-size:32.77px;color:#2e3135;-webkit-text-stroke:0.85px #2e3135;transform:scaleX(1.0189);font-family:'Liberation Sans', Arial, sans-serif;">accuracy</div>
<div class="t" style="left:902.77px;top:1087.60px;font-size:25.40px;color:#5b5f70;font-family:'Liberation Sans', Arial, sans-serif;">0</div>
<div class="t" style="left:881.87px;top:982.08px;font-size:25.40px;color:#5b5f70;font-family:'Liberation Sans', Arial, sans-serif;">0.2</div>
<div class="t" style="left:881.33px;top:876.56px;font-size:25.40px;color:#5b5f70;font-family:'Liberation Sans', Arial, sans-serif;">0.4</div>
<div class="t" style="left:881.71px;top:771.04px;font-size:25.40px;color:#5b5f70;font-family:'Liberation Sans', Arial, sans-serif;">0.6</div>
<div class="t" style="left:945.34px;top:1133.10px;font-size:25.40px;color:#5b5f70;font-family:'Liberation Sans', Arial, sans-serif;">0</div>
<div class="t" style="left:1034.35px;top:1133.10px;font-size:25.40px;color:#5b5f70;font-family:'Liberation Sans', Arial, sans-serif;">1</div>
<div class="t" style="left:1124.06px;top:1133.10px;font-size:25.40px;color:#5b5f70;font-family:'Liberation Sans', Arial, sans-serif;">2</div>
<div class="t" style="left:1213.49px;top:1133.10px;font-size:25.40px;color:#5b5f70;font-family:'Liberation Sans', Arial, sans-serif;">3</div>
<div class="t" style="left:1302.86px;top:1133.10px;font-size:25.40px;color:#5b5f70;font-family:'Liberation Sans', Arial, sans-serif;">4</div>
<div class="t" style="left:1392.16px;top:1133.10px;font-size:25.40px;color:#5b5f70;font-family:'Liberation Sans', Arial, sans-serif;">5</div>
<div class="t" style="left:1481.41px;top:1133.10px;font-size:25.40px;color:#5b5f70;font-family:'Liberation Sans', Arial, sans-serif;">6</div>
<div class="t" style="left:1570.84px;top:1133.10px;font-size:25.40px;color:#5b5f70;font-family:'Liberation Sans', Arial, sans-serif;">7</div>
<div class="t" style="left:1510.03px;top:1063.78px;font-size:25.44px;color:#5b5f70;transform:scaleX(1.0119);font-family:'Liberation Sans', Arial, sans-serif;">Step</div>
<div class="t" style="left:1760.77px;top:1087.70px;font-size:25.40px;color:#5b5f70;font-family:'Liberation Sans', Arial, sans-serif;">0</div>
<div class="t" style="left:1739.87px;top:1005.66px;font-size:25.40px;color:#5b5f70;font-family:'Liberation Sans', Arial, sans-serif;">0.2</div>
<div class="t" style="left:1739.33px;top:923.62px;font-size:25.40px;color:#5b5f70;font-family:'Liberation Sans', Arial, sans-serif;">0.4</div>
<div class="t" style="left:1739.71px;top:841.58px;font-size:25.40px;color:#5b5f70;font-family:'Liberation Sans', Arial, sans-serif;">0.6</div>
<div class="t" style="left:1739.69px;top:759.54px;font-size:25.40px;color:#5b5f70;font-family:'Liberation Sans', Arial, sans-serif;">0.8</div>
<div class="t" style="left:1761.01px;top:677.50px;font-size:25.40px;color:#5b5f70;font-family:'Liberation Sans', Arial, sans-serif;">1</div>
<div class="t" style="left:1803.34px;top:1133.10px;font-size:25.40px;color:#5b5f70;font-family:'Liberation Sans', Arial, sans-serif;">0</div>
<div class="t" style="left:1892.35px;top:1133.10px;font-size:25.40px;color:#5b5f70;font-family:'Liberation Sans', Arial, sans-serif;">1</div>
<div class="t" style="left:1982.06px;top:1133.10px;font-size:25.40px;color:#5b5f70;font-family:'Liberation Sans', Arial, sans-serif;">2</div>
<div class="t" style="left:2071.49px;top:1133.10px;font-size:25.40px;color:#5b5f70;font-family:'Liberation Sans', Arial, sans-serif;">3</div>
<div class="t" style="left:2160.86px;top:1133.10px;font-size:25.40px;color:#5b5f70;font-family:'Liberation Sans', Arial, sans-serif;">4</div>
<div class="t" style="left:2250.16px;top:1133.10px;font-size:25.40px;color:#5b5f70;font-family:'Liberation Sans', Arial, sans-serif;">5</div>
<div class="t" style="left:2339.41px;top:1133.10px;font-size:25.40px;color:#5b5f70;font-family:'Liberation Sans', Arial, sans-serif;">6</div>
<div class="t" style="left:2428.84px;top:1133.10px;font-size:25.40px;color:#5b5f70;font-family:'Liberation Sans', Arial, sans-serif;">7</div>
<div class="t" style="left:2368.03px;top:1063.78px;font-size:25.44px;color:#5b5f70;transform:scaleX(1.0119);font-family:'Liberation Sans', Arial, sans-serif;">Step</div>
</body></html>
